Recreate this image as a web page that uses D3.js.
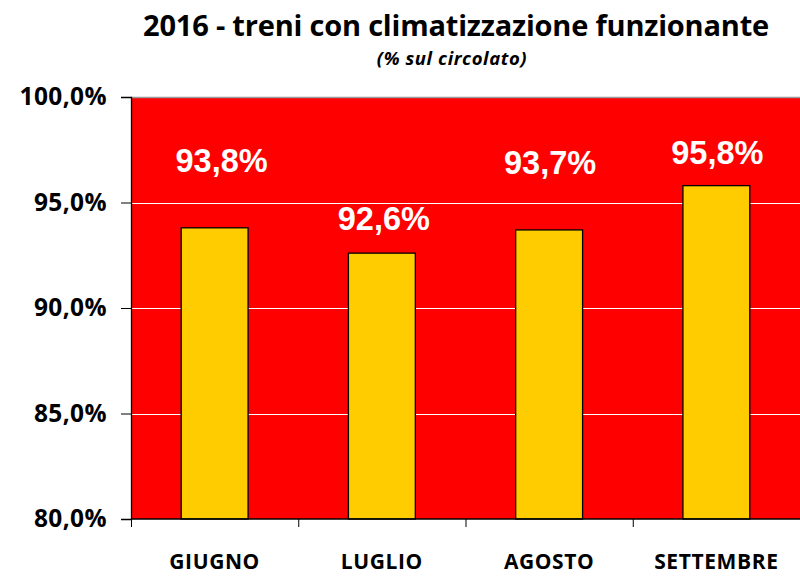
<!DOCTYPE html>
<html>
<head>
<meta charset="utf-8">
<script src="https://d3js.org/d3.v7.min.js"></script>
<style>
  body { margin: 0; background: #fff; }
  .cal { font-family: "Open Sans", "DejaVu Sans", sans-serif; font-weight: bold; }
  .lbl { font-family: "Liberation Sans", Arial, sans-serif; font-weight: bold; }
</style>
</head>
<body>
<script>
// data
var months = ["GIUGNO", "LUGLIO", "AGOSTO", "SETTEMBRE"];
var values = [93.8, 92.6, 93.7, 95.8];
var labels = ["93,8%", "92,6%", "93,7%", "95,8%"];
var yTicks = [80, 85, 90, 95, 100];
// hand-placed label lift above bar (px) and x nudge, as in the original
var labelLift = [56, 23, 56, 22];
var labelNudge = [7, 2, 1, 1];

var W = 800, H = 576;
var mLeft = 131, mRight = 800, mTop = 97, mBottom = 519;

var svg = d3.select("body").append("svg")
  .attr("width", W).attr("height", H);

var x = d3.scaleBand().domain(months).range([mLeft, mRight]).paddingInner(0.6).paddingOuter(0.3);
var xb = d3.scaleBand().domain(months).range([mLeft, mRight]);
var y = d3.scaleLinear().domain([80, 100]).range([mBottom, mTop]);

// title
svg.append("text").attr("class", "cal")
  .attr("x", 456).attr("y", 36)
  .attr("text-anchor", "middle")
  .attr("font-size", 29)
  .attr("letter-spacing", -0.2)
  .text("2016 - treni con climatizzazione funzionante");

svg.append("text").attr("class", "cal")
  .attr("x", 452).attr("y", 65)
  .attr("text-anchor", "middle")
  .attr("font-size", 18.5)
  .attr("letter-spacing", 0.6)
  .attr("font-style", "italic")
  .text("(% sul circolato)");

// plot background
svg.append("rect")
  .attr("x", mLeft).attr("y", mTop)
  .attr("width", mRight - mLeft).attr("height", mBottom - mTop)
  .attr("fill", "#FF0000");
svg.append("line")
  .attr("x1", mLeft).attr("x2", mRight)
  .attr("y1", mTop + 0.5).attr("y2", mTop + 0.5)
  .attr("stroke", "#999").attr("stroke-width", 1.5);

// gridlines
svg.append("g").selectAll("line")
  .data(yTicks.filter(function(d) { return d > 80 && d < 100; }))
  .enter().append("line")
  .attr("x1", mLeft).attr("x2", mRight)
  .attr("y1", function(d) { return Math.round(y(d)) + 0.5; })
  .attr("y2", function(d) { return Math.round(y(d)) + 0.5; })
  .attr("stroke", "#fff").attr("stroke-width", 1);

// bars
svg.append("g").selectAll("rect")
  .data(values)
  .enter().append("rect")
  .attr("x", function(d, i) { return x(months[i]); })
  .attr("y", function(d) { return y(d); })
  .attr("width", x.bandwidth())
  .attr("height", function(d) { return mBottom - y(d); })
  .attr("fill", "#FFCC00")
  .attr("stroke", "#000").attr("stroke-width", 1.3);

// value labels
svg.append("g").selectAll("text")
  .data(values)
  .enter().append("text")
  .attr("class", "lbl")
  .attr("x", function(d, i) { return x(months[i]) + x.bandwidth() / 2 + labelNudge[i]; })
  .attr("y", function(d, i) { return y(d) - labelLift[i]; })
  .attr("text-anchor", "middle")
  .attr("font-size", 32.5)
  .attr("fill", "#fff")
  .text(function(d, i) { return labels[i]; });

// y axis
var yAxis = d3.axisLeft(y).tickValues(yTicks).tickSize(10).tickPadding(14)
  .tickFormat(function(d) { return d3.format(".1f")(d).replace(".", ",") + "%"; });
var gy = svg.append("g")
  .attr("transform", "translate(" + mLeft + ",0)")
  .call(yAxis);
gy.select(".domain").attr("stroke", "#000").attr("stroke-width", 1.3);
gy.selectAll(".tick line").attr("stroke", "#000");
gy.selectAll(".tick text")
  .attr("class", "cal")
  .attr("font-size", 24.5)
  .attr("letter-spacing", 0.4)
  .attr("fill", "#000");

// x axis (ticks at band edges)
var gx = svg.append("g")
  .attr("transform", "translate(0," + mBottom + ")");
gx.append("line")
  .attr("x1", mLeft).attr("x2", mRight)
  .attr("stroke", "#000").attr("stroke-width", 1.3);
gx.selectAll("line.t")
  .data(months)
  .enter().append("line").attr("class", "t")
  .attr("x1", function(d) { return xb(d) + 0.5; })
  .attr("x2", function(d) { return xb(d) + 0.5; })
  .attr("y1", 0).attr("y2", 8)
  .attr("stroke", "#000");
gx.selectAll("text")
  .data(months)
  .enter().append("text")
  .attr("class", "cal")
  .attr("x", function(d) { return xb(d) + xb.bandwidth() / 2; })
  .attr("y", 50)
  .attr("text-anchor", "middle")
  .attr("font-size", 21)
  .attr("letter-spacing", 0.6)
  .attr("fill", "#000")
  .text(function(d) { return d; });
</script>
</body>
</html>
